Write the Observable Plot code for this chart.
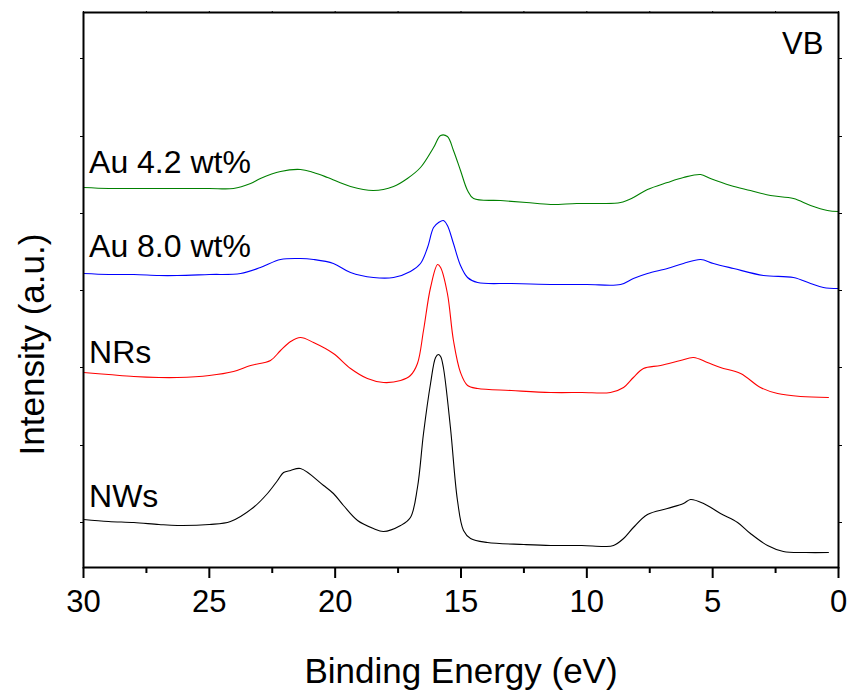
<!DOCTYPE html>
<html><head><meta charset="utf-8">
<script src="https://cdn.jsdelivr.net/npm/d3@7"></script>
<script src="https://cdn.jsdelivr.net/npm/@observablehq/plot@0.6"></script>
<style>body{margin:0;background:#fff}</style>
</head><body><div id="chart"></div>
<script>
// Binding energy (eV), intensity (a.u., offset stacked)
const nws = [[30,48],[29,46],[28,45],[27,43],[26.27,42],[25,43],[24.16,46],[23.25,60],[22.69,74],[22.29,87],[22.05,95],[21.77,97],[21.38,99],[20.46,82],[20.07,74],[19.67,62],[19.11,47],[18.48,39],[18.08,36],[17.40,42],[17.01,50],[16.73,80],[16.49,134],[16.21,184],[16.01,210],[15.9,213],[15.81,211],[15.70,200],[15.42,140],[15.14,67],[14.90,37],[14.62,29],[13.95,25],[12.5,23],[11.44,22],[10.2,22],[9.3,21],[8.94,22],[8.54,29],[8.15,40],[7.59,53],[6.80,59],[6.16,64],[5.88,68],[5.36,64],[4.69,54],[4.01,45],[3.50,34],[2.82,22],[2.19,16],[1.3,15],[0.40,15]];
const nrs = [[30,195],[29,193],[28,191],[27,190],[26.27,190],[25,192],[24.04,196],[23.36,202],[22.57,207],[22.17,217],[21.77,226],[21.38,230],[20.86,225],[20.07,214],[19.39,199],[18.72,189],[18.08,185],[17.40,187],[17.01,192],[16.73,204],[16.49,237],[16.21,280],[15.93,303],[15.81,300],[15.54,274],[15.30,227],[15.02,195],[14.74,182],[14.34,179],[13,177],[11.44,175],[10.2,175],[9.06,175],[8.54,180],[8.15,190],[7.75,199],[7.07,202],[6.28,207],[5.76,210],[5.21,205],[4.69,200],[3.89,194],[3.10,180],[2.42,174],[1.51,171],[0.40,170]];
const au80 = [[30,294],[29,293],[28,293],[27,292],[26.27,292],[25,293],[23.76,294],[22.97,300],[22.17,308],[21.38,309],[20.86,308],[20.07,304],[19.39,295],[18.48,290],[17.68,290],[17.01,296],[16.61,304],[16.33,320],[16.09,340],[15.89,345],[15.70,347],[15.54,342],[15.30,324],[15.02,302],[14.74,290],[14.34,285],[13,284],[11.44,283],[10,283],[8.66,283],[8.15,289],[7.59,294],[6.80,299],[6.16,304],[5.48,308],[4.97,304],[4.17,299],[2.98,292],[1.79,290],[1.11,284],[0.60,280],[0,279]];
const au42 = [[30,380],[29,379],[28,379],[27,379],[26.27,379],[25,379],[24.04,379],[23.36,384],[22.97,389],[22.17,396],[21.38,398],[20.86,395],[20.30,390],[19.39,381],[18.48,377],[17.68,381],[17.13,389],[16.61,400],[16.09,420],[15.81,432],[15.54,431],[15.30,417],[15.02,397],[14.74,377],[14.50,369],[13.43,367],[12.4,365],[11.44,363],[10.4,364],[9.46,364],[8.66,365],[8.15,370],[7.59,378],[6.80,385],[6.16,390],[5.48,393],[5.09,389],[4.29,382],[3.50,377],[2.70,372],[1.79,369],[1.11,362],[0.44,357],[0,356]];

const seriesNames = ["NWs", "NRs", "Au 8.0 wt%", "Au 4.2 wt%"];
const seriesColors = ["#000000", "#ff0000", "#0000ff", "#008000"];
const seriesValues = [nws, nrs, au80, au42];
// label anchor positions (energy, intensity)
const labelEnergy = [29.78, 29.78, 29.78, 29.78];
const labelIntensity = [70.5, 214.5, 320.5, 404.5];

const energyTicks = [30, 25, 20, 15, 10, 5, 0];
const minorTicks = [27.5, 22.5, 17.5, 12.5, 7.5, 2.5];
const intensityTicks = [45, 122, 200, 277, 354, 431, 509];

const panelLabel = {text: "VB", energy: 0.6, intensity: 523};
const xTitle = "Binding Energy (eV)";
const yTitle = "Intensity (a.u.)";

const rows = seriesNames.flatMap((name, i) =>
  seriesValues[i].map(([e, v]) => ({series: name, energy: e, intensity: v})));
const labels = seriesNames.map((name, i) => ({name, energy: labelEnergy[i], intensity: labelIntensity[i]}));

const chart = Plot.plot({
  width: 850, height: 695,
  marginTop: 12, marginBottom: 128, marginLeft: 83, marginRight: 12,
  style: {fontFamily: "'Liberation Sans', Arial, sans-serif", background: "#fff", color: "#000"},
  x: {domain: [30, 0]},
  y: {domain: [0, 555]},
  color: {domain: seriesNames, range: seriesColors},
  marks: [
    Plot.line(rows, {x: "energy", y: "intensity", z: "series", stroke: "series", strokeWidth: 1.1, curve: "catmull-rom"}),
    Plot.frame({stroke: "#000", strokeWidth: 2}),
    Plot.axisX({ticks: energyTicks, tickSize: 11, tickPadding: 11, fontSize: 31, strokeWidth: 2, label: null}),
    Plot.axisX({ticks: minorTicks, tickSize: 6, strokeWidth: 2, tickFormat: () => "", label: null}),
    Plot.axisX({anchor: "top", ticks: [...energyTicks, ...minorTicks], tickSize: 2, tickFormat: () => "", label: null}),
    Plot.axisY({ticks: intensityTicks, tickSize: 3, tickFormat: () => "", label: null}),
    Plot.axisY({anchor: "right", ticks: intensityTicks, tickSize: 3, tickFormat: () => "", label: null}),
    Plot.text(labels, {x: "energy", y: "intensity", text: "name", textAnchor: "start", fontSize: 32, fill: "#000"}),
    Plot.text([panelLabel], {x: "energy", y: "intensity", text: "text", textAnchor: "end", fontSize: 31, fill: "#000"}),
    Plot.text([xTitle], {text: d => d, frameAnchor: "bottom", textAnchor: "middle", lineAnchor: "middle", dy: 104, fontSize: 35, fill: "#000"}),
    Plot.text([yTitle], {text: d => d, frameAnchor: "left", textAnchor: "middle", lineAnchor: "middle", rotate: -90, dx: -51, dy: 54.5, fontSize: 35, fill: "#000"})
  ]
});
document.getElementById("chart").appendChild(chart);
</script>
</body></html>
